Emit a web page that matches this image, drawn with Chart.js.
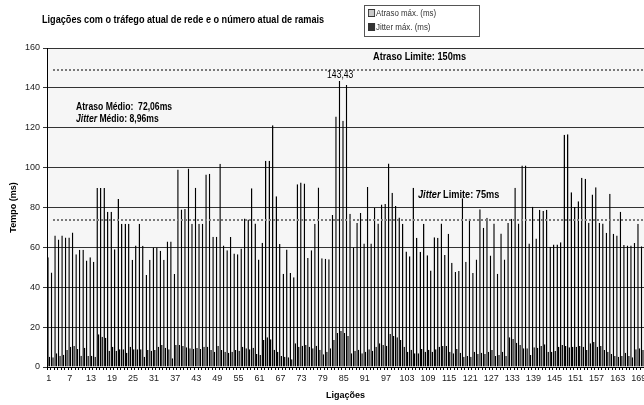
<!DOCTYPE html>
<html>
<head>
<meta charset="utf-8">
<script src="https://cdn.jsdelivr.net/npm/chart.js@4.4.1/dist/chart.umd.min.js"></script>
<style>
  html, body { margin: 0; padding: 0; background: #fff; overflow: hidden; }
  #wrap { position: relative; width: 644px; height: 405px; overflow: hidden; }
  #grafico { position: absolute; left: 0; top: 0; }
  #titulo { position: absolute; left: 42px; top: 13px; white-space: nowrap;
    font: bold 11px 'Liberation Sans', Arial, sans-serif; color: #000;
    transform: scaleX(0.83); transform-origin: 0 0; }
  #legenda { position: absolute; left: 364px; top: 5px; width: 114px; height: 30px; border: 1px solid #555; background: #fff; }
  #legenda div { position: absolute; left: 3px; white-space: nowrap;
    font: 9px 'Liberation Sans', Arial, sans-serif; color: #333; transform: scaleX(0.88); transform-origin: 0 0; }
  #legenda span { display: inline-block; width: 6px; height: 6px; border: 1px solid #333; margin-right: 1px; vertical-align: -1px; }
</style>
</head>
<body>
<div id="wrap">
  <canvas id="grafico" width="660" height="405"></canvas>
  <div id="titulo">Ligações com o tráfego atual de rede e o número atual de ramais</div>
  <div id="legenda">
    <div style="top:2px"><span style="background:#c8c8c8"></span>Atraso máx. (ms)</div>
    <div style="top:16px"><span style="background:#333"></span>Jitter máx. (ms)</div>
  </div>
</div>
<script>
// Ligações 1..170
const ligacoes = Array.from({ length: 170 }, (_, i) => String(i + 1));

// Atraso máximo por ligação (ms)
const atrasoMax = [
  55, 47.4, 66, 64, 66, 65, 65, 67.5, 56.6, 58.8,
  58.8, 53.4, 55, 52.8, 89.8, 89.8, 89.8, 77.9, 77.9, 59,
  84.3, 71.9, 71.9, 71.9, 53.8, 61, 71.9, 60.8, 46.2, 53.8,
  60, 60, 58.3, 53.8, 63, 63, 46.7, 99.1, 79, 79.3,
  99.6, 71.9, 89.9, 71.9, 71.9, 96.6, 96.9, 65.3, 65.3, 101.9,
  60.9, 58.5, 65.2, 56.9, 56.6, 59.4, 74.5, 74, 89.6, 72,
  53.9, 62.3, 103.4, 103.4, 121.3, 85.7, 61.7, 46.8, 58.9, 47.2,
  45, 91.7, 92.5, 92, 54.7, 58.5, 71.9, 90, 54.6, 54.3,
  54, 76.2, 125.6, 143.43, 123.5, 141.4, 76.9, 60, 72.2, 77.2,
  61.9, 90.3, 61.9, 79.8, 72, 81.5, 81.7, 102.1, 87.4, 80.7,
  75, 71.9, 57.9, 55.6, 89.9, 64.8, 57.8, 71.8, 56, 48.4,
  65.1, 64.8, 72, 56.2, 66.8, 52.3, 47.6, 48.1, 84.6, 52.8,
  74.3, 47.1, 53.9, 79.1, 69.8, 74.8, 55.9, 72, 46.8, 66.9,
  53.9, 72.2, 74.4, 89.9, 72, 101.1, 101.1, 62, 80.4, 64.4,
  78.9, 78.3, 78.9, 60.3, 61.4, 61.4, 62.6, 116.5, 116.8, 87.7,
  80.3, 83.1, 94.9, 94.4, 72.3, 86.5, 90.2, 72.2, 72, 67.3,
  86.9, 66.8, 65.9, 77.9, 61.2, 60.9, 60.9, 62.2, 71.9, 60.6
];

// Jitter máximo por ligação (ms)
const jitterMax = [
  5.2, 4.9, 6.9, 5.7, 6.2, 8.5, 10.2, 10.5, 9, 5.7,
  9.7, 5.5, 5.7, 5.2, 16.4, 15.2, 14.7, 8.2, 10.2, 8.2,
  8.9, 8.9, 7.2, 10.2, 8.9, 8.9, 8.9, 5.2, 8.5, 8.2,
  8.5, 10.2, 11, 9.7, 8.9, 4.4, 11, 11, 10.5, 9.9,
  9.4, 9.2, 9.5, 9, 10.2, 10.2, 8.5, 7.7, 10.5, 8.5,
  7.7, 7.2, 7.7, 8.5, 8.2, 10.2, 9.4, 8.9, 9.7, 6.5,
  6, 13.6, 14.9, 13.9, 8.6, 7.7, 5.5, 5.2, 4.9, 3.9,
  11.9, 10.2, 10.6, 11, 10.2, 9.4, 10.6, 8.6, 6.4, 7.7,
  9.4, 13.6, 17, 18.1, 17, 15.6, 6.9, 8.2, 8.6, 6.9,
  7.7, 8.9, 8.1, 10.2, 11.9, 11, 10.6, 16.6, 15.6, 14.9,
  13.6, 10.2, 7.7, 8.6, 6.9, 6.9, 9, 7.7, 8.6, 7.7,
  8.9, 10.2, 10.5, 10.5, 7.7, 6.9, 9, 7.2, 5.2, 5.5,
  5.2, 7.7, 6.5, 7.2, 6.5, 7.7, 8.5, 5.5, 6, 7.7,
  5.5, 14.9, 14, 12.2, 11, 9.4, 9.4, 6, 9.9, 9.7,
  10.5, 11.4, 7.7, 7.7, 8, 10.2, 11, 10.5, 9.9, 10.2,
  10.2, 10.5, 10.2, 8.5, 11.9, 12.6, 10.2, 10.5, 8.5, 7.7,
  6.5, 5.5, 5.2, 5.5, 7.2, 5.5, 4.9, 8.9, 9.4, 8.5
];

// linhas pontilhadas de limite (posição)
const limites = [149, 73.5];

const fonte = "'Liberation Sans', Arial, sans-serif";

// fundo da área, linhas de limite e textos
const anotacoes = {
  id: 'anotacoes',
  beforeDraw(chart) {
    const { ctx, chartArea: a } = chart;
    ctx.save();
    ctx.fillStyle = '#f6f6f6';
    ctx.fillRect(a.left, a.top, a.right - a.left, a.bottom - a.top);
    ctx.restore();
  },
  afterDatasetsDraw(chart) {
    const { ctx, chartArea: a, scales: { x, y } } = chart;
    ctx.save();
    ctx.strokeStyle = '#7a7a7a';
    ctx.lineWidth = 2;
    ctx.setLineDash([2, 2]);
    limites.forEach(v => {
      const py = Math.round(y.getPixelForValue(v));
      ctx.beginPath();
      ctx.moveTo(a.left + 6, py);
      ctx.lineTo(a.right, py);
      ctx.stroke();
    });
    ctx.setLineDash([]);
    ctx.fillStyle = '#000';

    // texto estreito (fonte comprimida na horizontal)
    function linha(partes, px, py, tam, escala, alinhar) {
      ctx.save();
      ctx.translate(px, py);
      ctx.scale(escala, 1);
      ctx.textBaseline = 'middle';
      let total = 0;
      partes.forEach(([txt, estilo]) => { ctx.font = estilo + ' ' + tam + 'px ' + fonte; total += ctx.measureText(txt).width; });
      let cx = alinhar === 'center' ? -total / 2 : 0;
      partes.forEach(([txt, estilo]) => {
        ctx.font = estilo + ' ' + tam + 'px ' + fonte;
        ctx.fillText(txt, cx, 0);
        cx += ctx.measureText(txt).width;
      });
      ctx.restore();
    }

    // valor do pico
    const iMax = atrasoMax.indexOf(Math.max(...atrasoMax));
    linha([[String(atrasoMax[iMax]).replace('.', ','), 'normal']],
      x.getPixelForValue(iMax), y.getPixelForValue(atrasoMax[iMax]) - 6, 10, 0.86, 'center');

    linha([['Atraso Limite: 150ms', 'bold']], 373, 57, 10, 0.92);
    linha([['Atraso Médio:  72,06ms', 'bold']], 76, 107, 10, 0.86);
    linha([['Jitter', 'italic bold'], [' Médio: 8,96ms', 'bold']], 76, 119, 10, 0.86);
    linha([['Jitter', 'italic bold'], [' Limite: 75ms', 'bold']], 418, 195, 10, 0.92);
    ctx.restore();
  }
};

const ctx = document.getElementById('grafico').getContext('2d');
new Chart(ctx, {
  type: 'bar',
  data: {
    labels: ligacoes,
    datasets: [{
      label: 'Atraso máx. (ms)',
      data: atrasoMax,
      backgroundColor: '#c8c8c8',
      borderColor: '#000',
      borderWidth: 1
    }, {
      label: 'Jitter máx. (ms)',
      data: jitterMax,
      backgroundColor: '#333',
      borderColor: '#000',
      borderWidth: 1
    }]
  },
  options: {
    responsive: false,
    animation: false,
    layout: { padding: { top: 48, right: 16, left: 0, bottom: 0 } },
    datasets: { bar: { categoryPercentage: 0.85, barPercentage: 1 } },
    plugins: {
      legend: { display: false },
      tooltip: { enabled: false }
    },
    scales: {
      x: {
        offset: true,
        grid: { drawOnChartArea: false, drawTicks: true, tickLength: 3, color: '#000' },
        border: { color: '#000' },
        ticks: {
          autoSkip: false, maxRotation: 0, padding: 3, color: '#222',
          font: { family: fonte, size: 9 },
          callback: (v, i) => i % 6 === 0 ? ligacoes[i] : ''
        },
        title: { display: true, text: 'Ligações', color: '#000', font: { family: fonte, size: 9, weight: 'bold' }, padding: { top: 4, bottom: 4 } },
        afterFit: s => { s.height = 38; }
      },
      y: {
        min: 0, max: 160,
        grid: { color: '#333', tickLength: 4 },
        border: { color: '#000' },
        ticks: { stepSize: 20, padding: 3, color: '#222', font: { family: fonte, size: 9 } },
        title: { display: true, text: 'Tempo (ms)', color: '#000', font: { family: fonte, size: 9, weight: 'bold' }, padding: { top: 8, bottom: 0 } },
        afterFit: s => { s.width = 47; }
      }
    }
  },
  plugins: [anotacoes]
});
</script>
</body>
</html>
